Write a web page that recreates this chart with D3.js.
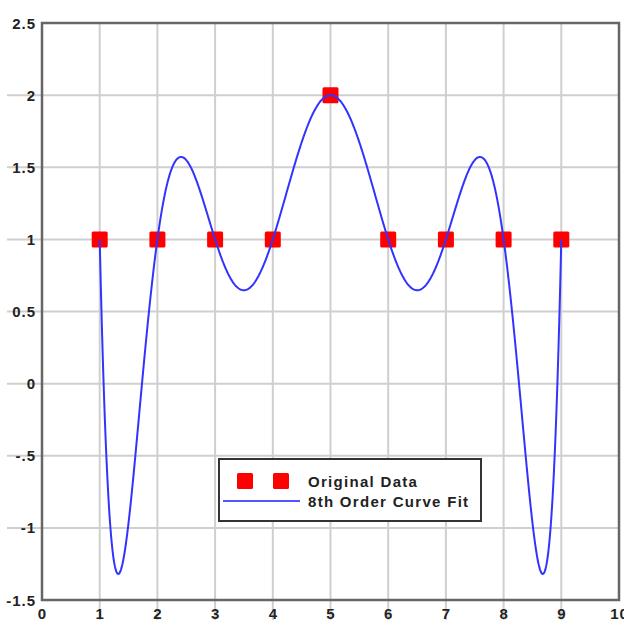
<!DOCTYPE html>
<html>
<head>
<meta charset="utf-8">
<script src="https://cdn.jsdelivr.net/npm/d3@7"></script>
<style>
  body { margin: 0; background: #fff; }
  text { font-family: "Liberation Sans", Arial, sans-serif; font-weight: bold; fill: #222; }
</style>
</head>
<body>
<div id="chart"></div>
<script>
// original data points
var xData = [1, 2, 3, 4, 5, 6, 7, 8, 9];
var yData = [1, 1, 1, 1, 2, 1, 1, 1, 1];
var fitOrder = 8;

var xTicks = [0, 1, 2, 3, 4, 5, 6, 7, 8, 9, 10];
var yTicks = [2.5, 2, 1.5, 1, 0.5, 0, -0.5, -1, -1.5];
var yTickLabels = ["2.5", "2", "1.5", "1", "0.5", "0", "-.5", "-1", "-1.5"];

var legendNames = ["Original Data", "8th Order Curve Fit"];

// least squares polynomial fit (centred on the mean x for stability)
function polyfit(xs, ys, order) {
	var xm = d3.mean(xs);
	var n = order + 1;
	var A = [], b = [];
	for (var i = 0; i < n; i++) {
		A.push(new Array(n).fill(0));
		b.push(0);
	}
	xs.forEach(function(x, k) {
		var t = x - xm;
		for (var i = 0; i < n; i++) {
			for (var j = 0; j < n; j++) A[i][j] += Math.pow(t, i + j);
			b[i] += ys[k] * Math.pow(t, i);
		}
	});
	// gaussian elimination
	for (var c = 0; c < n; c++) {
		var p = c;
		for (var r = c + 1; r < n; r++) if (Math.abs(A[r][c]) > Math.abs(A[p][c])) p = r;
		var tmp = A[c]; A[c] = A[p]; A[p] = tmp;
		var tb = b[c]; b[c] = b[p]; b[p] = tb;
		for (var r = c + 1; r < n; r++) {
			var f = A[r][c] / A[c][c];
			for (var j = c; j < n; j++) A[r][j] -= f * A[c][j];
			b[r] -= f * b[c];
		}
	}
	var coef = new Array(n).fill(0);
	for (var r = n - 1; r >= 0; r--) {
		var s = b[r];
		for (var j = r + 1; j < n; j++) s -= A[r][j] * coef[j];
		coef[r] = s / A[r][r];
	}
	return function(x) {
		var t = x - xm, v = 0;
		for (var i = n - 1; i >= 0; i--) v = v * t + coef[i];
		return v;
	};
}

var fit = polyfit(xData, yData, fitOrder);
var fitX = d3.range(d3.min(xData), d3.max(xData) + 0.0001, 0.01);
var fitData = fitX.map(function(x) { return { x: x, y: fit(x) }; });

var width = 624, height = 622;
var plotLeft = 42, plotRight = 619, plotTop = 23, plotBottom = 600;

var xScale = d3.scaleLinear().domain([0, 10]).range([plotLeft, plotRight]);
var yScale = d3.scaleLinear().domain([-1.5, 2.5]).range([plotBottom, plotTop]);

var svg = d3.select("#chart").append("svg")
	.attr("width", width)
	.attr("height", height);

/* grid */
svg.append("g")
	.selectAll("line")
	.data(xTicks.slice(1, -1)).enter()
	.append("line")
	.attr("x1", d => xScale(d)).attr("x2", d => xScale(d))
	.attr("y1", plotTop).attr("y2", 620)
	.attr("stroke", "#cfcfcf")
	.attr("stroke-width", 2);

svg.append("g")
	.selectAll("line")
	.data(yTicks.slice(1, -1)).enter()
	.append("line")
	.attr("x1", 7).attr("x2", plotRight)
	.attr("y1", d => yScale(d)).attr("y2", d => yScale(d))
	.attr("stroke", "#cfcfcf")
	.attr("stroke-width", 2);

/* tick labels */
svg.append("g")
	.selectAll("text")
	.data(yTicks).enter()
	.append("text")
	.attr("x", 36)
	.attr("y", d => yScale(d) + 5.5)
	.attr("text-anchor", "end")
	.style("font-size", "15px")
	.style("letter-spacing", "1px")
	.text((d, i) => yTickLabels[i]);

svg.append("g")
	.selectAll("text")
	.data(xTicks).enter()
	.append("text")
	.attr("x", d => xScale(d) + 0.5)
	.attr("y", 619)
	.attr("text-anchor", "middle")
	.style("font-size", "15px")
	.style("letter-spacing", "1px")
	.text(d => d);

/* frame */
svg.append("rect")
	.attr("x", plotLeft).attr("y", plotTop)
	.attr("width", plotRight - plotLeft).attr("height", plotBottom - plotTop)
	.attr("fill", "none")
	.attr("stroke", "#666")
	.attr("stroke-width", 2.5);

/* data markers */
svg.append("g")
	.selectAll("rect")
	.data(xData).enter()
	.append("rect")
	.attr("x", d => xScale(d) - 8)
	.attr("y", (d, i) => yScale(yData[i]) - 8)
	.attr("width", 16).attr("height", 16)
	.attr("rx", 1.5)
	.attr("fill", "#ff0000");

/* fitted curve */
var line = d3.line()
	.x(d => xScale(d.x))
	.y(d => yScale(d.y));

svg.append("path")
	.datum(fitData)
	.attr("d", line)
	.attr("fill", "none")
	.attr("stroke", "#3333ff")
	.attr("stroke-width", 2);

/* legend */
var lg = svg.append("g").attr("transform", "translate(219,459)");
lg.append("rect")
	.attr("width", 262).attr("height", 62)
	.attr("fill", "#fff")
	.attr("stroke", "#333")
	.attr("stroke-width", 2);
[26, 62].forEach(function(cx) {
	lg.append("rect")
		.attr("x", cx - 8).attr("y", 14)
		.attr("width", 16).attr("height", 16)
		.attr("rx", 1.5)
		.attr("fill", "#ff0000");
});
lg.append("line")
	.attr("x1", 4).attr("x2", 81)
	.attr("y1", 42).attr("y2", 42)
	.attr("stroke", "#5555ff")
	.attr("stroke-width", 2);
lg.selectAll("text.name")
	.data(legendNames).enter()
	.append("text")
	.attr("class", "name")
	.attr("x", 89)
	.attr("y", (d, i) => 28 + i * 20)
	.style("font-size", "15px")
	.style("letter-spacing", "1.3px")
	.text(d => d);
</script>
</body>
</html>
